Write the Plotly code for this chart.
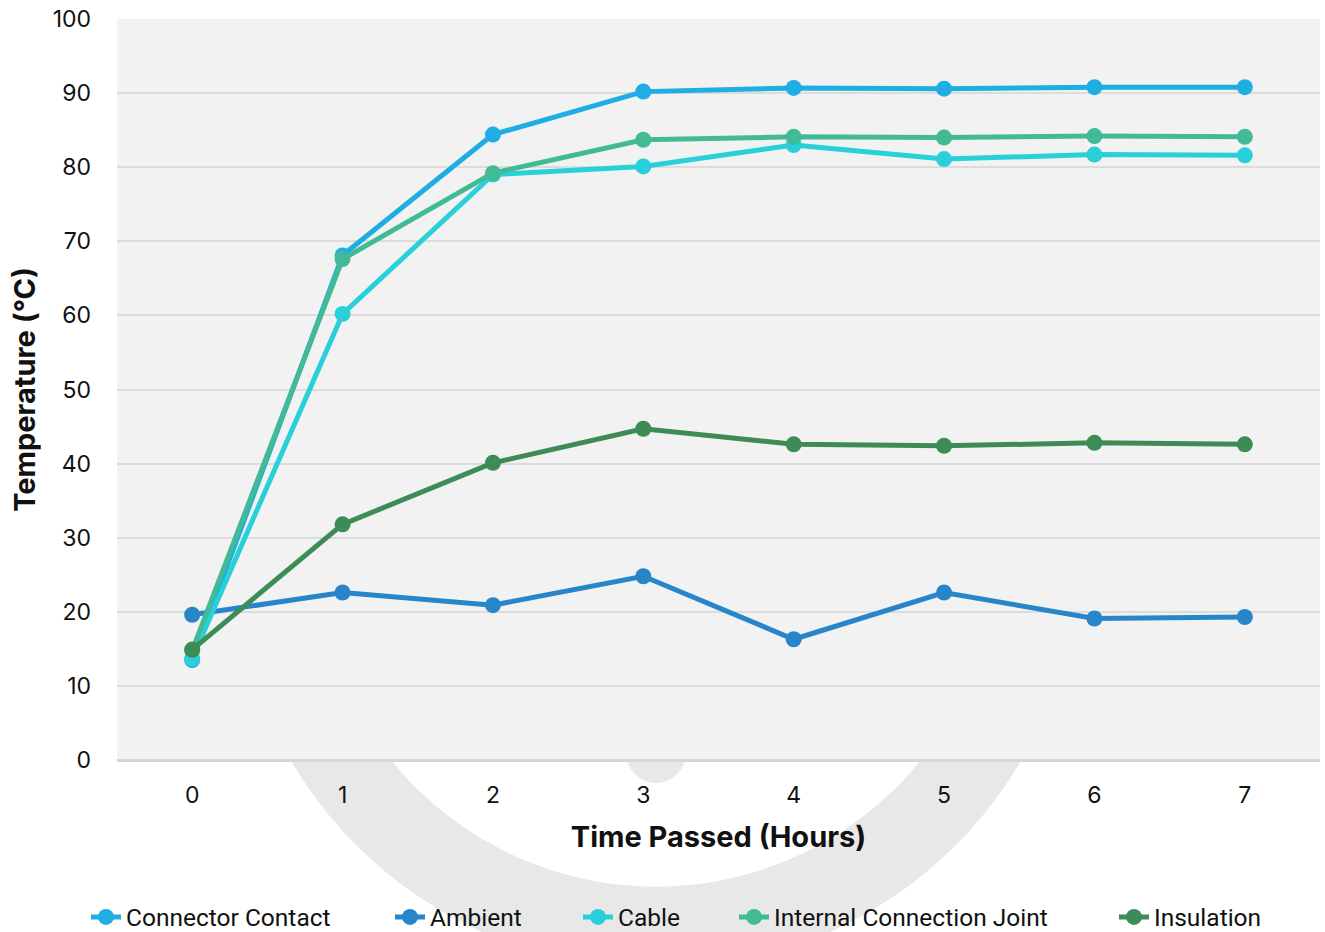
import plotly.graph_objects as go

hours = [0, 1, 2, 3, 4, 5, 6, 7]
connector_contact = [13.5, 68.1, 84.4, 90.2, 90.7, 90.6, 90.8, 90.8]
ambient = [19.6, 22.6, 20.9, 24.8, 16.3, 22.6, 19.1, 19.3]
cable = [13.7, 60.2, 79.0, 80.1, 83.0, 81.1, 81.7, 81.6]
internal_joint = [14.8, 67.6, 79.2, 83.7, 84.1, 84.0, 84.2, 84.1]
insulation = [14.9, 31.8, 40.1, 44.7, 42.6, 42.4, 42.8, 42.6]

series = [
    ("Connector Contact", connector_contact, "#1EAEE3"),
    ("Ambient", ambient, "#2985CA"),
    ("Cable", cable, "#29D0D9"),
    ("Internal Connection Joint", internal_joint, "#43BA96"),
    ("Insulation", insulation, "#3D8B56"),
]

W, H = 1325, 932
ML, MR, MT, MB = 117, 5, 17, 172
PW, PH = W - ML - MR, H - MT - MB

# legend text start positions (px) for each entry
legend_text_x = [126, 430, 618, 774, 1154]

fig = go.Figure()
for i, (name, vals, col) in enumerate(series):
    fig.add_trace(go.Scatter(
        x=hours, y=vals, name=name, mode="lines+markers",
        line=dict(color=col, width=5),
        marker=dict(color=col, size=16),
        legend="legend" if i == 0 else f"legend{i+1}",
    ))

def px_x(p):
    return (p - ML) / PW

def px_y(p):
    return (H - MB - p) / PH

def circle(cx, cy, r, color):
    return dict(type="circle", xref="paper", yref="paper", layer="below",
                x0=px_x(cx - r), x1=px_x(cx + r), y0=px_y(cy + r), y1=px_y(cy - r),
                fillcolor=color, line=dict(width=0))

shapes = [
    circle(656, 547, 423, "#E8E8E8"),
    circle(656, 547, 340, "#FFFFFF"),
    circle(656, 753, 30, "#E8E8E8"),
    dict(type="rect", xref="paper", yref="paper", layer="below",
         x0=0, x1=1, y0=0, y1=1, fillcolor="#F2F2F2", line=dict(width=0)),
]

legends = {}
for i, tx in enumerate(legend_text_x):
    key = "legend" if i == 0 else f"legend{i+1}"
    legends[key] = dict(
        orientation="h", xref="container", yref="container",
        x=(tx - 40) / W, xanchor="left", y=15 / H, yanchor="middle",
        font=dict(size=24.5, family="Roboto, sans-serif", color="#111111"),
        itemwidth=30, bgcolor="rgba(0,0,0,0)",
    )

fig.update_layout(
    width=W, height=H,
    margin=dict(l=ML, r=MR, t=MT, b=MB),
    paper_bgcolor="#FFFFFF",
    plot_bgcolor="#F2F2F2",
    font=dict(family="Inter, Roboto, sans-serif", color="#111111", size=24),
    shapes=shapes,
    showlegend=True,
    **legends,
    xaxis=dict(
        range=[-0.5, 7.5], tickmode="array", tickvals=hours,
        ticktext=[str(h) for h in hours],
        showgrid=False, zeroline=False, showline=False,
        ticklabelstandoff=19,
        tickfont=dict(size=23),
        title=dict(text="<b>Time Passed (Hours)</b>", font=dict(size=29), standoff=18),
    ),
    yaxis=dict(
        range=[0, 100], tickvals=list(range(0, 101, 10)),
        showgrid=True, gridcolor="#DCDCDC", gridwidth=2,
        zeroline=True, zerolinecolor="#D6D6D6", zerolinewidth=3,
        showline=False, ticklabelstandoff=25,
        tickfont=dict(size=23),
        title=dict(text="<b>Temperature (°C)</b>", font=dict(size=29), standoff=8),
    ),
)

fig.write_html("out.html", config={"displayModeBar": False},
               post_script="document.body.style.margin='0';document.body.style.padding='0';")
